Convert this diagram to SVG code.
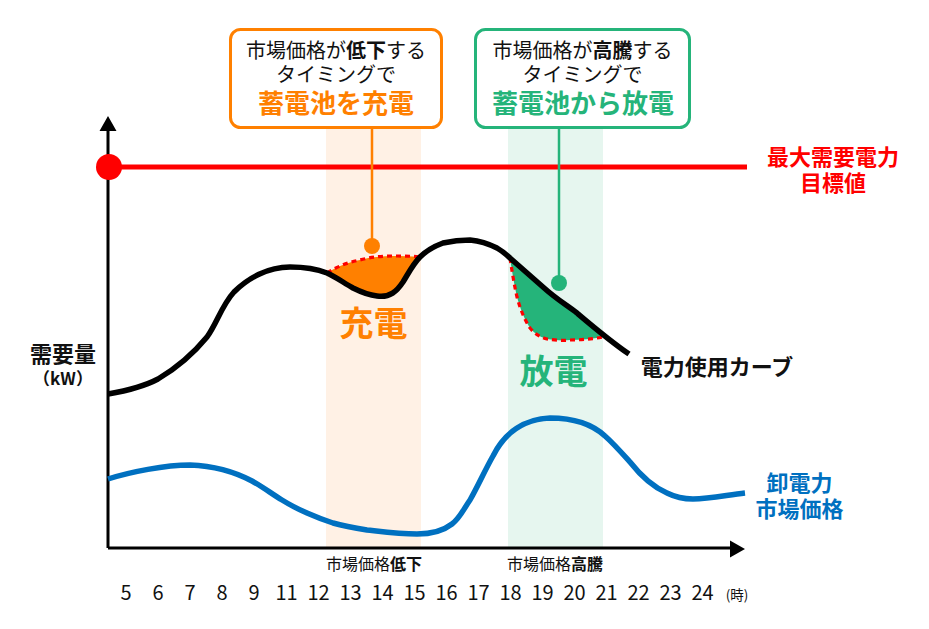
<svg xmlns="http://www.w3.org/2000/svg" width="929" height="629" viewBox="0 0 929 629">
<style>
text{font-family:"Noto Sans CJK JP","Noto Sans",sans-serif;text-anchor:middle;fill:#111}
.b{font-weight:700}
.t{font-size:20px}
.h{font-size:20px}
.s{font-size:16px}
.l{font-size:22px;font-weight:700}
.big{font-size:26px;font-weight:700}
.huge{font-size:34px;font-weight:700}
.box{fill:#fff;stroke-width:3}
.curve{fill:none;stroke-linecap:butt;stroke-linejoin:round}
.dash{stroke:#f00;stroke-width:3.200;stroke-dasharray:5 4;fill:none}
</style>
<rect x="326" y="128" width="95" height="419" fill="#fff1e5"/>
<rect x="508" y="128" width="95" height="419" fill="#e6f6ef"/>
<g id="areas">
<path d="M327 273C338 266 349 262 360 260C371 257 382 256 393 256C402 256 411 256 420 257C413 264 408 274 403 282C399 289 395 293 390 294C385 297 381 297 377 296C368 295 361 292 353 288C344 283 336 277 327 273Z" fill="#ff8000"/>
<path d="M510 258L543 287C555 298 565 304 577 313C586 321 594 330 603 337C592 339 581 340 570 340C562 341 554 340 547 339C540 337 535 334 530 328C524 319 520 308 517 297C514 284 512 271 510 258Z" fill="#25b47a"/>
<path class="dash" d="M327 273C338 266 349 262 360 260C371 257 382 256 393 256C402 256 411 256 420 257"/>
<path class="dash" d="M510 258C512 271 514 284 517 297C520 308 524 319 530 328C535 334 540 337 547 339C554 340 562 341 570 340C581 340 592 339 603 337"/>
</g>
<g id="connectors">
<path d="M108 548V125" stroke="#000" stroke-width="3" fill="none"/>
<path d="M108 548H731" stroke="#000" stroke-width="3" fill="none"/>
<path d="M108 116l-8.500 15h17zM745 549l-15-8.500v17z" fill="#000"/>
<path d="M109 167H747" stroke="#f00" stroke-width="5" fill="none"/>
<path class="curve" stroke="#000" stroke-width="5.500" d="M108 394C125 391 143 387 158 379C175 369 193 354 207 337C217 323 222 305 234 292C248 278 268 267 290 267C304 267 317 269 327 273C336 277 344 283 353 288C361 292 368 295 377 296C390 298 397 291 403 282C408 274 413 264 420 257C427 250 435 246 443 243C452 241 461 240 470 240C480 241 489 244 497 248C502 251 506 254 510 258L543 287C555 298 565 304 577 313C590 324 610 341 629 354"/>
<path class="curve" stroke="#0070c0" stroke-width="5.500" d="M108 479C130 472 165 465 190 465C215 466 235 472 252 481C263 487 272 494 282 500C290 505 298 509 307 513C316 517 324 520 333 523C344 526 355 528 367 530C385 532 400 534 417 534C430 534 443 531 452 524C460 518 463 510 470 500C478 486 485 470 493 456C505 432 525 419 550 418C575 418 592 424 605 436C613 443 621 452 630 462C641 476 653 487 667 493C675 497 684 499 693 499C710 499 727 495 745 493"/>
<path d="M372 128V246" stroke="#ff8000" stroke-width="2.500"/>
<path d="M559 128V283" stroke="#25b47a" stroke-width="2.500"/>
<circle cx="372" cy="246" r="8" fill="#ff8000"/>
<circle cx="559" cy="283" r="8" fill="#25b47a"/>
<circle cx="109" cy="167" r="13" fill="#f00"/>
</g>
<g id="box-charge">
<rect class="box" x="230.500" y="29.500" width="211" height="98" rx="10" stroke="#ff8000"/>
<text class="t" x="336" y="58">市場価格が<tspan class="b">低下</tspan>する</text>
<text class="t" x="336" y="82">タイミングで</text>
<text class="big" style="fill:#ff8000" x="336" y="113">蓄電池を充電</text>
</g>
<g id="box-discharge">
<rect class="box" x="475.500" y="29.500" width="214" height="98" rx="10" stroke="#25b47a"/>
<text class="t" x="582.500" y="58">市場価格が<tspan class="b">高騰</tspan>する</text>
<text class="t" x="582.500" y="82">タイミングで</text>
<text class="big" style="fill:#25b47a" x="583" y="113">蓄電池から放電</text>
</g>
<g id="label-target">
<text class="l" style="fill:#f00" x="833" y="165">最大需要電力</text>
<text class="l" style="fill:#f00" x="833" y="191">目標値</text>
</g>
<g id="label-y">
<text class="l" x="63" y="362">需要量</text>
<text class="b" font-size="17" x="63" y="385">（kW）</text>
</g>
<g id="label-charge"><text class="huge" style="fill:#ff8000" x="373.500" y="336">充電</text></g>
<g id="label-discharge"><text class="huge" style="fill:#25b47a" x="553.500" y="384">放電</text></g>
<g id="label-curve"><text class="l" x="717" y="375">電力使用カーブ</text></g>
<g id="label-price">
<text class="l" style="fill:#0070c0" x="799.500" y="491">卸電力</text>
<text class="l" style="fill:#0070c0" x="799.500" y="517">市場価格</text>
</g>
<g id="label-low"><text class="s" x="374" y="570">市場価格<tspan class="b">低下</tspan></text></g>
<g id="label-high"><text class="s" x="555" y="570">市場価格<tspan class="b">高騰</tspan></text></g>
<g id="hours">
<text class="h" x="126" y="600">5</text><text class="h" x="158" y="600">6</text><text class="h" x="190" y="600">7</text><text class="h" x="222" y="600">8</text><text class="h" x="254" y="600">9</text><text class="h" x="286.500" y="600">11</text><text class="h" x="318.500" y="600">12</text><text class="h" x="350.500" y="600">13</text><text class="h" x="382.500" y="600">14</text><text class="h" x="414.500" y="600">15</text><text class="h" x="446.500" y="600">16</text><text class="h" x="478.500" y="600">17</text><text class="h" x="510.500" y="600">18</text><text class="h" x="542.500" y="600">19</text><text class="h" x="574.500" y="600">20</text><text class="h" x="606.500" y="600">21</text><text class="h" x="638.500" y="600">22</text><text class="h" x="670.500" y="600">23</text><text class="h" x="702.500" y="600">24</text>
<text font-size="13.500" x="737" y="600">(時)</text>
</g>
</svg>
